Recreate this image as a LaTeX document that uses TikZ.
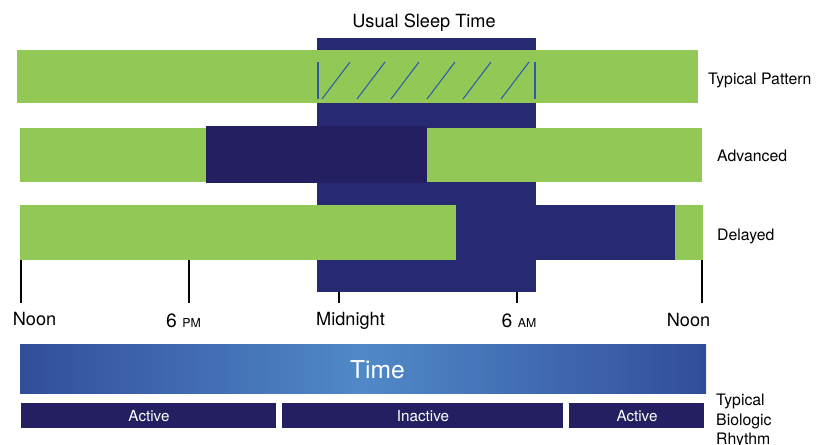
\documentclass[tikz,border=0pt]{standalone}
\usepackage{fontspec}
\setmainfont{TeX Gyre Heros}

\definecolor{sleepnavy}{HTML}{272A72}
\definecolor{shiftnavy}{HTML}{241F60}
\definecolor{awakegreen}{HTML}{92C956}
\definecolor{hatchblue}{HTML}{2C5BA8}
\definecolor{timedark}{HTML}{27388A}
\definecolor{timelight}{HTML}{5089C8}
\pgfdeclarehorizontalshading{timeshade}{100bp}{color(0bp)=(timedark); color(16bp)=(timedark); color(50bp)=(timelight); color(84bp)=(timedark); color(100bp)=(timedark)}

\begin{document}
\begin{tikzpicture}
        [x=0.03cm,
        y=-0.03cm,
        awake/.style={fill=awakegreen, draw=none},
        asleep/.style={fill=sleepnavy, draw=none},
        shifted/.style={fill=shiftnavy, draw=none},
        hatch/.style={color=hatchblue, line width=0.9pt},
        tick/.style={color=black, line width=1.2pt},
        hour/.style={anchor=base, font=\fontsize{15.5}{18}\selectfont},
        rowlabel/.style={anchor=base west, inner xsep=0pt, font=\fontsize{13.5}{16}\selectfont},
        rhythm/.style={anchor=base, text=white, font=\fontsize{13}{15}\selectfont}]
%%
\useasboundingbox (0,0) rectangle (816,444);
%%
%% Coordinates of the time axis:
%%
\coordinate (noonA) at (21,260);
\coordinate (sixPM) at (189,260);
\coordinate (midnight) at (339,292);
\coordinate (sixAM) at (517,292);
\coordinate (noonB) at (702,260);
%%
%%
%% Usual sleep column in the back
%%
\fill[asleep] (317,38) rectangle (536,292);
\node[anchor=base, font=\fontsize{15.5}{18}\selectfont] (usual) at (424,27) {Usual Sleep Time};
%%
%%
%% Typical pattern
%%
\fill[awake] (17,50) rectangle (698,103);
\draw[hatch] (318,62) -- (318,99);
\draw[hatch] (535,62) -- (535,99);
\foreach \x in {322,357,391,427,463,501}
  \draw[hatch] (\x,99) -- (\x+28,62);
\node[rowlabel] (typical) at (708,84) {Typical Pattern};
%%
%%
%% Advanced pattern
%%
\fill[awake] (20,128) rectangle (702,182);
\fill[shifted] (206,126) rectangle (427,183);
\node[rowlabel] (advanced) at (717,161) {Advanced};
%%
%%
%% Delayed pattern
%%
\fill[awake] (20,205) rectangle (703,260);
\fill[asleep] (456,205) rectangle (675,260);
\node[rowlabel] (delayed) at (717,240) {Delayed};
%%
%%
%% Drawing the ticks and the hours
%%
\draw[tick] (noonA) -- ++(0,43);
\draw[tick] (sixPM) -- ++(0,43);
\draw[tick] (midnight) -- ++(0,11);
\draw[tick] (sixAM) -- ++(0,11);
\draw[tick] (noonB) -- ++(0,43);

\node[hour] (noonAlabel) at (34.5,325) {Noon};
\node[hour] (sixPMlabel) at (183.5,327) {\fontsize{16.5}{18}\selectfont 6 {\fontsize{10.5}{12}\selectfont PM}};
\node[hour] (midnightlabel) at (350.5,325) {Midnight};
\node[hour] (sixAMlabel) at (519,327) {\fontsize{16.5}{18}\selectfont 6 {\fontsize{10.5}{12}\selectfont AM}};
\node[hour] (noonBlabel) at (688.5,326) {Noon};
%%
%%
%% Time bar and biologic rhythm
%%
\shade[shading=timeshade] (20,344) rectangle (706,393);
\node[anchor=base, text=white, font=\fontsize{21}{24}\selectfont] (time) at (377.5,378) {Time};

\fill[shifted] (21,403) rectangle (276,428);
\fill[shifted] (282,403) rectangle (563,428);
\fill[shifted] (569,403) rectangle (704,428);
\node[rhythm] (activeA) at (149,421) {Active};
\node[rhythm] (inactive) at (423,421) {Inactive};
\node[rhythm] (activeB) at (637,421) {Active};

\node[rowlabel] (rhythmA) at (716,405) {Typical};
\node[rowlabel] (rhythmB) at (716,425) {Biologic};
\node[rowlabel] (rhythmC) at (716,444) {Rhythm};

\end{tikzpicture}
\end{document}
